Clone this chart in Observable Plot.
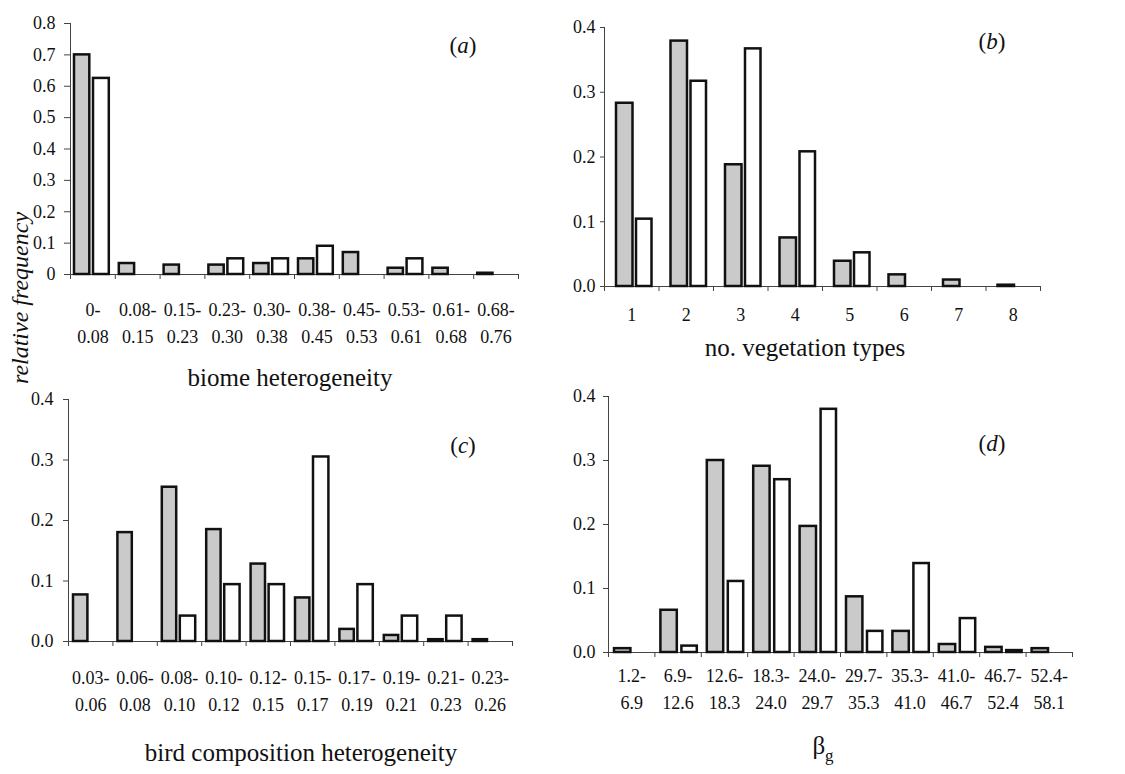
<!DOCTYPE html>
<html><head><meta charset="utf-8">
<script src="https://cdn.jsdelivr.net/npm/d3@7"></script>
<script src="https://cdn.jsdelivr.net/npm/@observablehq/plot@0.6"></script>
<style>
body{margin:0;background:#fff;}
#wrap{position:relative;width:1125px;height:774px;overflow:hidden;font-family:"Liberation Serif","Times New Roman",serif;color:#111;}
.panel{position:absolute;}
.t{position:absolute;font-size:25px;white-space:nowrap;transform:translate(-50%,-50%);line-height:1;}
.lt{font-size:23px;}
.it{font-style:italic;}
</style></head><body><div id="wrap"></div>
<script>
// ---- data ----
const aBins = ["0-\n0.08","0.08-\n0.15","0.15-\n0.23","0.23-\n0.30","0.30-\n0.38","0.38-\n0.45","0.45-\n0.53","0.53-\n0.61","0.61-\n0.68","0.68-\n0.76"];
const aGray  = [0.70, 0.035, 0.03, 0.03, 0.035, 0.05, 0.07, 0.02, 0.02, 0.004];
const aWhite = [0.625, null, null, 0.05, 0.05, 0.09, null, 0.05, null, null];

const bBins = ["1","2","3","4","5","6","7","8"];
const bGray  = [0.283, 0.379, 0.188, 0.075, 0.039, 0.018, 0.010, 0.002];
const bWhite = [0.104, 0.317, 0.367, 0.208, 0.052, null, null, null];

const cBins = ["0.03-\n0.06","0.06-\n0.08","0.08-\n0.10","0.10-\n0.12","0.12-\n0.15","0.15-\n0.17","0.17-\n0.19","0.19-\n0.21","0.21-\n0.23","0.23-\n0.26"];
const cGray  = [0.077, 0.18, 0.255, 0.185, 0.128, 0.072, 0.02, 0.01, 0.003, 0.003];
const cWhite = [null, null, 0.042, 0.094, 0.094, 0.305, 0.094, 0.042, 0.042, null];

const dBins = ["1.2-\n6.9","6.9-\n12.6","12.6-\n18.3","18.3-\n24.0","24.0-\n29.7","29.7-\n35.3","35.3-\n41.0","41.0-\n46.7","46.7-\n52.4","52.4-\n58.1"];
const dGray  = [0.006, 0.066, 0.30, 0.291, 0.197, 0.087, 0.033, 0.0125, 0.008, 0.006];
const dWhite = [null, 0.010, 0.111, 0.270, 0.380, 0.033, 0.139, 0.053, 0.003, null];

const yTicksA = [0,0.1,0.2,0.3,0.4,0.5,0.6,0.7,0.8];
const yTicks4 = [0,0.1,0.2,0.3,0.4];

// ---- drawing ----
const wrap = document.getElementById("wrap");
const GRAY = "#cacaca", AX = "#444";

function panel(o) {
  const n = o.bins.length;
  const rows = o.bins.map((label, i) => ({i, label, g: o.gray[i], w: o.white[i]}));
  const svg = Plot.plot({
    width: o.width, height: o.height,
    marginLeft: o.ml, marginRight: o.mr, marginTop: o.mt, marginBottom: o.mb,
    style: {fontFamily: '"Liberation Serif","Times New Roman",serif', fontSize: "18px", color: "#111", background: "transparent"},
    x: {domain: [0, n], axis: null},
    y: {domain: [0, o.yMax], axis: null},
    marks: [
      Plot.ruleY([0], {stroke: AX, strokeWidth: 1}),
      Plot.ruleX([0], {stroke: AX, strokeWidth: 1}),
      Plot.axisY({ticks: o.yTicks, tickFormat: o.fmt, tickSize: o.ts, tickPadding: o.tp, stroke: AX, label: null, fontSize: 18}),
      Plot.axisX({ticks: d3.range(0, n + 1), tickFormat: () => "", tickSize: 5, stroke: AX, label: null}),
      Plot.rect(rows.filter(d => d.g != null), {x1: d => d.i, x2: d => d.i + 1, y1: 0, y2: "g",
        fill: GRAY, stroke: "#111", strokeWidth: 2.5, insetLeft: o.gIn[0], insetRight: o.gIn[1]}),
      Plot.rect(rows.filter(d => d.w != null), {x1: d => d.i, x2: d => d.i + 1, y1: 0, y2: "w",
        fill: "#fff", stroke: "#111", strokeWidth: 2.5, insetLeft: o.wIn[0], insetRight: o.wIn[1]}),
      Plot.text(rows, {x: d => d.i + 0.5, y: 0, text: "label", lineAnchor: "top", dy: o.ldy,
        fontSize: 18, lineHeight: 1.5, fill: "#111"})
    ]
  });
  svg.classList.add("panel");
  svg.style.left = o.left + "px";
  svg.style.top = o.top + "px";
  wrap.appendChild(svg);
}

const fmtA = d => d === 0 ? "0" : d.toFixed(1);
const fmt1 = d => d.toFixed(1);

panel({bins: aBins, gray: aGray, white: aWhite, yMax: 0.8, yTicks: yTicksA, fmt: fmtA,
  left: 0, top: 0, width: 560, height: 400, ml: 70, mr: 42, mt: 23, mb: 126,
  ts: 6, tp: 9, gIn: [4, 25.5], wIn: [23, 6], ldy: 22});
panel({bins: bBins, gray: bGray, white: bWhite, yMax: 0.4, yTicks: yTicks4, fmt: fmt1,
  left: 560, top: 0, width: 565, height: 380, ml: 44, mr: 85, mt: 27, mb: 94,
  ts: 4, tp: 5, gIn: [12, 26], wIn: [32, 7], ldy: 15});
panel({bins: cBins, gray: cGray, white: cWhite, yMax: 0.4, yTicks: yTicks4, fmt: fmt1,
  left: 0, top: 380, width: 560, height: 394, ml: 68, mr: 48, mt: 19, mb: 133,
  ts: 5, tp: 10, gIn: [5, 25], wIn: [23, 6], ldy: 23});
panel({bins: dBins, gray: dGray, white: dWhite, yMax: 0.4, yTicks: yTicks4, fmt: fmt1,
  left: 560, top: 380, width: 565, height: 394, ml: 48, mr: 53, mt: 16, mb: 122,
  ts: 5, tp: 8, gIn: [6, 24], wIn: [27, 4], ldy: 10});

// ---- annotations ----
const notes = [
  {html: "(<i>a</i>)", x: 463, y: 45, cls: "lt"},
  {html: "(<i>b</i>)", x: 992, y: 41, cls: "lt"},
  {html: "(<i>c</i>)", x: 463, y: 445, cls: "lt"},
  {html: "(<i>d</i>)", x: 992, y: 443, cls: "lt"},
  {html: "biome heterogeneity", x: 290, y: 377},
  {html: "no. vegetation types", x: 805, y: 347},
  {html: "bird composition heterogeneity", x: 301, y: 752},
  {html: "β<sub style='font-size:17px;vertical-align:-7px'>g</sub>", x: 823, y: 748}
];
for (const n of notes) {
  const d = document.createElement("div");
  d.className = "t" + (n.cls ? " " + n.cls : "");
  d.innerHTML = n.html;
  d.style.left = n.x + "px"; d.style.top = n.y + "px";
  wrap.appendChild(d);
}
const yl = document.createElement("div");
yl.className = "t it";
yl.textContent = "relative frequency";
yl.style.left = "20px"; yl.style.top = "298px"; yl.style.fontSize = "24px";
yl.style.transform = "translate(-50%,-50%) rotate(-90deg)";
wrap.appendChild(yl);
</script></body></html>
